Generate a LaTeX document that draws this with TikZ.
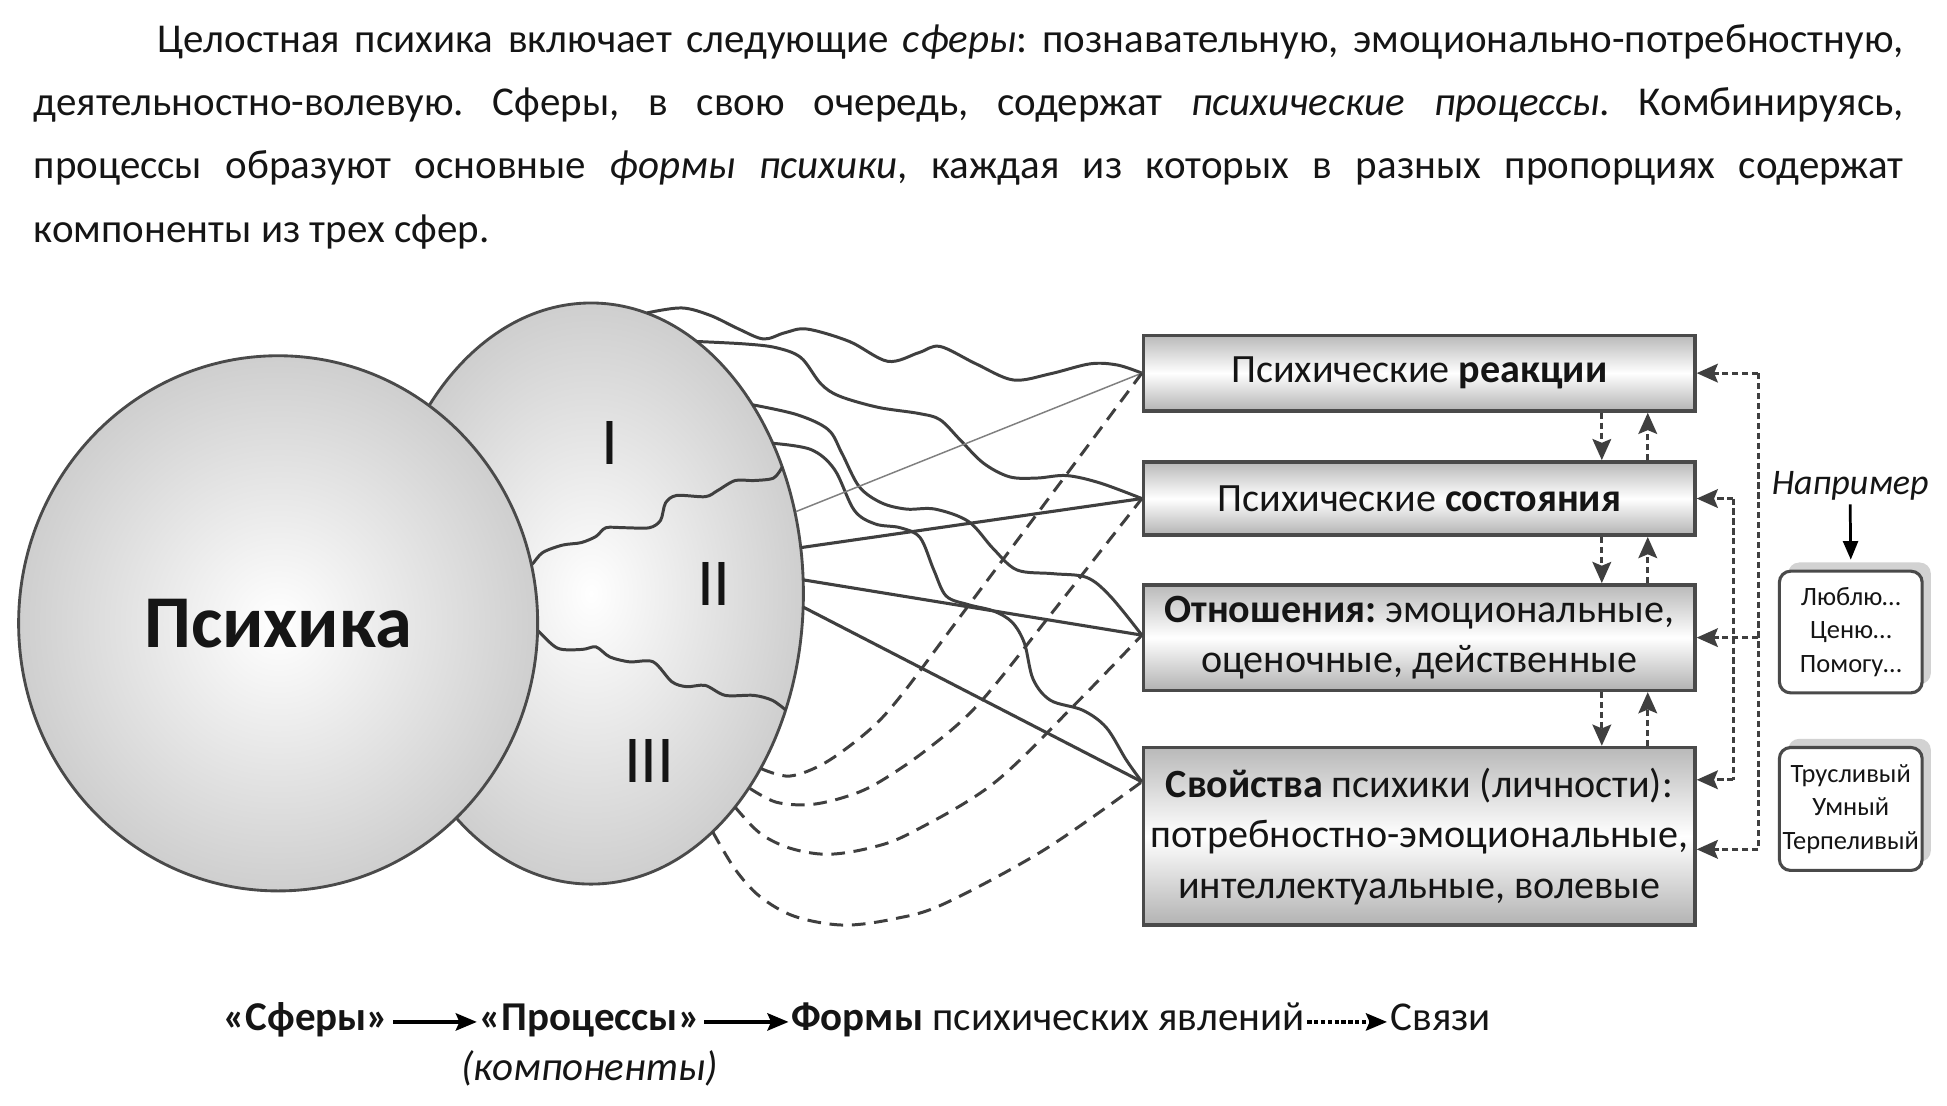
\documentclass[tikz,border=0pt]{standalone}
\usepackage{fontspec}
\setmainfont{Carlito}
\usetikzlibrary{arrows.meta,shapes.geometric,shadows,calc}
\definecolor{ln}{HTML}{3F3F3F}
\definecolor{bd}{HTML}{4A4A4A}
\definecolor{tx}{HTML}{151515}
\newcommand{\bodyfont}{\fontsize{33}{40}\selectfont}
\frenchspacing
\begin{document}
\begin{tikzpicture}[x=1pt,y=-1pt,
  every node/.style={text=tx},
  formbox/.style={draw=bd, line width=2.8pt, minimum width=444pt, top color=gray!55, bottom color=gray!60, middle color=white, inner sep=0pt, font=\fontsize{32.3}{40.5}\selectfont, align=center},
  exbox/.style={draw=bd, line width=2.5pt, rounded corners=9pt, fill=white, minimum width=115pt, inner sep=0pt, font=\fontsize{21.3}{27}\selectfont, align=center, drop shadow={shadow xshift=7pt, shadow yshift=7pt, fill=gray!35, opacity=1}},
  orb/.style={ellipse, draw=bd, line width=2.3pt, inner sep=0pt, inner color=white, outer color=gray!38},
  wave/.style={draw=ln, line width=2.4pt},
  sline/.style={draw=ln, line width=2.5pt},
  dline/.style={draw=ln, line width=2.4pt, dash pattern=on 11pt off 7pt},
  dots/.style={draw=ln, line width=2.5pt, dash pattern=on 5pt off 3pt},
  tip/.style={-{Stealth[length=17pt,width=15pt,inset=3pt]}},
  ltip/.style={-{Stealth[length=17pt,width=14pt,inset=3pt]}},
  para/.style={anchor=base west, inner sep=0pt, font=\bodyfont},
]
\fill[white] (0,0) rectangle (1568,890);
\useasboundingbox (0,0) rectangle (1568,890);

% paragraph
\node[para] (t1) at (127,42) {\makebox[1406pt][s]{Целостная психика включает следующие \textit{сферы}: познавательную, эмоционально-потребностную,}};
\node[para] (t2) at (27,93) {\makebox[1506pt][s]{деятельностно-волевую. Сферы, в свою очередь, содержат \textit{психические процессы}. Комбинируясь,}};
\node[para] (t3) at (27,144) {\makebox[1506pt][s]{процессы образуют основные \textit{формы психики}, каждая из которых в разных пропорциях содержат}};
\node[para] (t4) at (27,195) {компоненты из трех сфер.};

% spheres ellipse
\node[orb, minimum width=342pt, minimum height=468pt] (sph) at (476,478) {};
\draw[wave] plot[smooth, tension=0.5] coordinates {(420,460) (428,455) (437,445) (453,439) (468,437) (480,432) (488,425) (503,425) (523,425) (532,419) (536,405) (545,399) (568,400) (578,395) (592,387) (607,387) (623,385) (630,376)};
\draw[wave] plot[smooth, tension=0.5] coordinates {(422,502) (432,507) (449,522) (469,523) (480,521) (491,529) (507,533) (526,533) (541,549) (553,553) (568,552) (584,560) (607,560) (622,564) (633,572)};
\node[font=\fontsize{54}{54}\selectfont] (r1) at (491,357) {I};
\node[font=\fontsize{54}{54}\selectfont] (r2) at (575,470) {II};
\node[font=\fontsize{54}{54}\selectfont] (r3) at (523,613) {III};

% psyche
\node[orb, minimum width=418pt, minimum height=431pt, font=\fontsize{60}{60}\selectfont\bfseries] (psy) at (224,502) {Психика};

% boxes
\node[formbox, minimum height=61pt] (b1) at (1143,300.5) {Психические \textbf{реакции}};
\node[formbox, minimum height=59pt] (b2) at (1143,401.5) {Психические \textbf{состояния}};
\node[formbox, minimum height=85pt] (b3) at (1143,513.5) {\textbf{Отношения:} эмоциональные,\\оценочные, действенные};
\node[formbox, minimum height=143pt] (b4) at (1143,673.5) {\textbf{Свойства} психики (личности):\\потребностно-эмоциональные,\\интеллектуальные, волевые};

% connection points
\coordinate (a1) at (521,252);
\coordinate (a2) at (561,275);
\coordinate (a3) at (606,326);
\coordinate (a4) at (622,357);
\coordinate (s1) at (641,412);
\coordinate (s2) at (645,441);
\coordinate (s3) at (647,467);
\coordinate (s4) at (647,489);
\coordinate (d1) at (613,619);
\coordinate (d2) at (604,635);
\coordinate (d3) at (592,650);
\coordinate (d4) at (574,670);
\coordinate (e1) at (b1.west);
\coordinate (e2) at (b2.west);
\coordinate (e3) at ([yshift=2pt]b3.west);
\coordinate (e4) at ([yshift=-29pt]b4.north west);

% wavy lines from sphere I
\draw[wave] plot[smooth, tension=0.55] coordinates {(a1) (549,248) (572,254) (595,265) (615,273) (632,268) (650,265) (684,275) (715,291) (740,284) (757,279) (786,293) (816,306) (846,301) (878,293) (900,294) (e1)};
\draw[wave] plot[smooth, tension=0.55] coordinates {(a2) (600,277) (625,280) (645,288) (661,309) (676,319) (707,328) (740,333) (757,338) (773,354) (792,373) (813,384) (835,385) (859,383) (886,389) (e2)};
\draw[wave] plot[smooth, tension=0.55] coordinates {(a3) (642,334) (667,346) (678,365) (692,392) (710,405) (730,410) (753,410) (780,420) (800,442) (819,459) (848,462) (875,465) (894,480) (e3)};
\draw[wave] plot[smooth, tension=0.55] coordinates {(a4) (653,362) (672,378) (688,411) (705,422) (725,425) (741,433) (752,459) (762,480) (780,487) (800,492) (815,501) (825,518) (832,547) (846,564) (872,572) (891,586) (907,612) (e4)};

% straight lines from sphere II
\draw[draw=gray, line width=1.2pt] (s1) -- (e1);
\draw[sline] (s2) -- (e2);
\draw[sline] (s3) -- (e3);
\draw[sline] (s4) -- (e4);

% dashed lines from sphere III
\draw[dline] plot[smooth, tension=0.55] coordinates {(d1) (636,625) (665,614) (700,588) (725,561) (770,501) (850,394) (e1)};
\draw[dline] plot[smooth, tension=0.55] coordinates {(d2) (625,646) (652,648) (680,642) (706,631) (746,604) (789,566) (850,490) (e2)};
\draw[dline] plot[smooth, tension=0.55] coordinates {(d3) (612,671) (636,683) (666,688) (700,683) (733,671) (800,631) (867,566) (e3)};
\draw[dline] plot[smooth, tension=0.55] coordinates {(d4) (592,700) (612,722) (640,738) (679,745) (720,740) (760,728) (840,685) (e4)};

% vertical arrows between boxes
\foreach \u/\l in {b1/b2, b2/b3, b3/b4} {
  \draw[dots, tip] ([xshift=147pt]\u.south) -- ([xshift=147pt]\l.north);
  \draw[dots, tip] ([xshift=184pt]\l.north) -- ([xshift=184pt]\u.south);
}

% right-side feedback lines
\coordinate (o1) at (1416,300.5);
\coordinate (o3) at (1416,513.5);
\coordinate (o4) at (1416,684);
\coordinate (i2) at (1396,401.5);
\coordinate (i4) at (1396,628);
\draw[dots] (o1) -- (o4);
\draw[dots] (i2) -- (i4);
\draw[dots, tip] (o1) -- (b1.east);
\draw[dots, tip] (o3) -- (b3.east);
\draw[dots, tip] (o4) -- (b4.east |- o4);
\draw[dots, tip] (i2) -- (b2.east);
\draw[dots, tip] (i4) -- (b4.east |- i4);

% examples
\node[font=\fontsize{29}{29}\selectfont\itshape] (nap) at (1490,391) {Например};
\node[exbox, minimum height=98pt] (exA) at (1490.5,509) {Люблю…\\Ценю…\\Помогу…};
\node[exbox, minimum height=99pt] (exB) at (1490.5,651.5) {Трусливый\\Умный\\Терпеливый};
\draw[black, line width=2.2pt, -{Triangle[length=15pt,width=12pt]}] (nap.south) -- ([yshift=8pt]exA.north);

% legend
\node[para] (l1) at (180,830) {\textbf{«Сферы»}};
\node[para] (l2) at (386,830) {\textbf{«Процессы»}};
\node[para] (l3) at (637,830) {\textbf{Формы} психических явлений};
\node[para] (l4) at (1120,830) {Связи};
\node[font=\bodyfont\itshape] (l5) at (475,860) {(компоненты)};
\draw[black, line width=2.6pt, ltip] ([xshift=3pt,yshift=7pt]l1.base east) -- ([xshift=-2pt,yshift=7pt]l2.base west);
\draw[black, line width=2.6pt, ltip] ([xshift=3pt,yshift=7pt]l2.base east) -- ([xshift=-2pt,yshift=7pt]l3.base west);
\draw[black, line width=2.6pt, dash pattern=on 3.5pt off 2pt, ltip] ([xshift=2pt,yshift=7pt]l3.base east) -- ([xshift=-3pt,yshift=7pt]l4.base west);
\end{tikzpicture}
\end{document}
